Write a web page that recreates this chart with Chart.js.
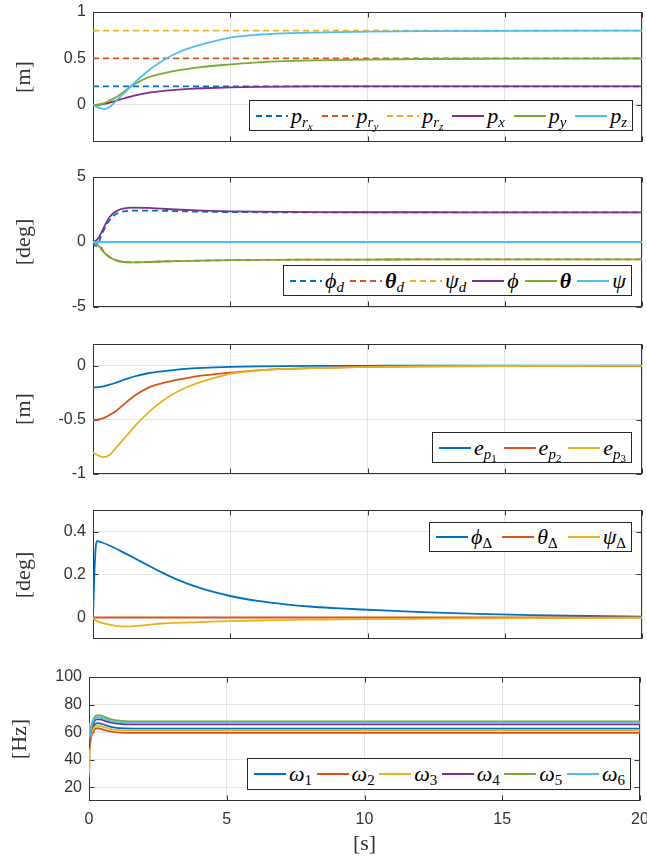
<!DOCTYPE html>
<html><head><meta charset="utf-8">
<script src="https://cdn.jsdelivr.net/npm/chart.js@4.4.0/dist/chart.umd.min.js"></script>
<style>
html,body{margin:0;padding:0;background:#fff;}
#wrap{position:relative;width:647px;height:858px;overflow:hidden;background:#fff;}
canvas{position:absolute;left:0;}
.ylab{position:absolute;font-family:"Liberation Serif",serif;font-size:22px;color:#333;transform:translate(-50%,-50%) rotate(-90deg);white-space:nowrap;line-height:1;}
.xlab{position:absolute;font-family:"Liberation Serif",serif;font-size:22px;color:#333;transform:translate(-50%,-50%);white-space:nowrap;line-height:1;}
.leg{position:absolute;box-sizing:border-box;border:1px solid #262626;background:#fff;display:flex;align-items:center;justify-content:space-between;padding:0 5px 0 6px;font-family:"Liberation Serif",serif;font-size:22px;color:#000;line-height:1;}
.item{display:flex;align-items:center;white-space:nowrap;}
.item svg{margin-right:3px;flex:none;}
.s1{font-size:15px;position:relative;top:4px;}
.s2{font-size:11px;position:relative;top:3px;}
i{font-style:italic;}
</style></head>
<body><div id="wrap">
<canvas id="c1" width="647" height="152" style="top:0px"></canvas>
<canvas id="c2" width="647" height="152" style="top:165px"></canvas>
<canvas id="c3" width="647" height="152" style="top:332px"></canvas>
<canvas id="c4" width="647" height="151" style="top:498px"></canvas>
<canvas id="c5" width="647" height="176" style="top:665px"></canvas>
</div>
<script>
// ---------- DATA ----------
const xTicks = [0, 5, 10, 15, 20];
const tRef = [0, 20];

// subplot 1 & 3 : positions and errors
const tPos = [0, 0.2, 0.4, 0.6, 0.8, 1, 1.25, 1.5, 2, 2.5, 3, 3.5, 4, 5, 6, 7, 8, 10, 12, 15, 20];
const pRx = [0.2, 0.2];
const pRy = [0.5, 0.5];
const pRz = [0.8, 0.8];
const pX = [0, 0.001, 0.01, 0.024, 0.04, 0.058, 0.08, 0.1, 0.13, 0.148, 0.162, 0.172, 0.179, 0.188, 0.193, 0.196, 0.198, 0.199, 0.2, 0.2, 0.2];
const pY = [0, 0.003, 0.018, 0.045, 0.075, 0.115, 0.17, 0.22, 0.295, 0.337, 0.367, 0.39, 0.41, 0.435, 0.457, 0.47, 0.478, 0.488, 0.494, 0.497, 0.499];
const pZ = [0, -0.03, -0.045, -0.025, 0.03, 0.09, 0.16, 0.235, 0.365, 0.47, 0.55, 0.61, 0.655, 0.725, 0.755, 0.77, 0.778, 0.788, 0.793, 0.797, 0.799];
const eP1 = [-0.2, -0.199, -0.19, -0.176, -0.16, -0.142, -0.12, -0.1, -0.07, -0.052, -0.038, -0.028, -0.021, -0.012, -0.007, -0.004, -0.002, -0.001, 0, 0, 0];
const eP2 = [-0.5, -0.497, -0.482, -0.455, -0.425, -0.385, -0.33, -0.28, -0.205, -0.163, -0.133, -0.11, -0.09, -0.065, -0.043, -0.03, -0.022, -0.012, -0.006, -0.003, -0.001];
const eP3 = [-0.8, -0.83, -0.845, -0.825, -0.77, -0.71, -0.64, -0.565, -0.435, -0.33, -0.25, -0.19, -0.145, -0.075, -0.045, -0.03, -0.022, -0.012, -0.007, -0.003, -0.001];

// subplot 2 : attitude
const tAtt = [0, 0.1, 0.2, 0.3, 0.4, 0.5, 0.6, 0.8, 1, 1.25, 1.5, 2, 2.5, 3, 4, 5, 6, 8, 10, 12, 15, 20];
const phiD = [0, -0.3, -0.1, 0.5, 0.95, 1.35, 1.65, 2.1, 2.3, 2.4, 2.42, 2.42, 2.4, 2.37, 2.33, 2.3, 2.29, 2.28, 2.28, 2.28, 2.28, 2.28];
const thetaD = [0, 0.05, -0.15, -0.45, -0.75, -0.98, -1.15, -1.38, -1.5, -1.55, -1.56, -1.54, -1.5, -1.47, -1.43, -1.4, -1.38, -1.36, -1.35, -1.34, -1.33, -1.33];
const psiD = [0, 0];
const phi = [0, 0.1, 0.3, 0.7, 1.15, 1.55, 1.9, 2.3, 2.52, 2.62, 2.65, 2.62, 2.56, 2.5, 2.42, 2.36, 2.33, 2.3, 2.29, 2.29, 2.28, 2.28];
const theta = [0, -0.1, -0.3, -0.55, -0.8, -1.0, -1.15, -1.38, -1.5, -1.56, -1.57, -1.54, -1.5, -1.47, -1.43, -1.4, -1.38, -1.36, -1.35, -1.34, -1.33, -1.33];
const psi = [0, 0];

// subplot 4 : attitude differences
const tDel = [0, 0.05, 0.1, 0.15, 0.3, 0.6, 1, 1.5, 2, 2.5, 3, 4, 5, 6, 7, 8, 9, 10, 12, 14, 16, 18, 20];
const phiDel = [0, 0.2, 0.33, 0.355, 0.35, 0.335, 0.31, 0.277, 0.243, 0.21, 0.18, 0.133, 0.1, 0.077, 0.061, 0.05, 0.042, 0.036, 0.025, 0.017, 0.011, 0.007, 0.004];
const thetaDel = [0, 0];
const psiDel = [0, -0.008, -0.013, -0.017, -0.024, -0.033, -0.041, -0.04, -0.034, -0.028, -0.025, -0.021, -0.017, -0.014, -0.012, -0.01, -0.009, -0.008, -0.006, -0.004, -0.003, -0.002, -0.001];

// subplot 5 : rotor speeds
const tRot = [0, 0.02, 0.05, 0.1, 0.2, 0.3, 0.4, 0.6, 0.8, 1, 1.3, 1.7, 2.5, 5, 10, 20];
const w1 = [58, 55, 58, 62, 65.5, 66.5, 66.3, 65, 63.8, 63.1, 62.7, 62.6, 62.6, 62.6, 62.6, 62.6];
const w2 = [27, 45, 53, 58, 61.8, 62.8, 62.5, 61.3, 60.3, 59.8, 59.5, 59.4, 59.4, 59.4, 59.4, 59.4];
const w3 = [30, 47, 55, 60, 63.8, 64.8, 64.6, 63.3, 62.2, 61.6, 61.3, 61.2, 61.2, 61.2, 61.2, 61.2];
const w4 = [48, 52, 58, 63.5, 68, 69.3, 69.2, 68, 66.8, 66.1, 65.7, 65.6, 65.6, 65.6, 65.6, 65.6];
const w5 = [55, 56, 61, 66, 70.8, 72.2, 72.1, 70.8, 69.3, 68.5, 68, 67.8, 67.8, 67.8, 67.8, 67.8];
const w6 = [67, 57, 60, 65, 69.5, 70.8, 70.7, 69.5, 68, 67.2, 66.7, 66.5, 66.5, 66.5, 66.5, 66.5];

// y tick labels
const yTicks1 = [0, 0.5, 1];
const yTicks2 = [-5, 0, 5];
const yTicks3 = [-1, -0.5, 0];
const yTicks4 = [0, 0.2, 0.4];
const yTicks5 = [20, 40, 60, 80, 100];

// ---------- STYLE ----------
const C = ['#0072BD', '#D95319', '#EDB120', '#7E2F8E', '#77AC30', '#4DBEEE'];
const GRID = '#e4e4e4', AXIS = '#333333', TICK = '#333333';

const boxPlugin = {
  id: 'mbox',
  beforeDatasetsDraw(chart) {
    const {ctx, chartArea: a, scales} = chart;
    ctx.save();
    ctx.strokeStyle = AXIS; ctx.lineWidth = 1;
    const L = Math.round(a.left) + 0.5, R = Math.round(a.right) - 0.5, T = Math.round(a.top) + 0.5, B = Math.round(a.bottom) - 0.5;
    ctx.strokeRect(L, T, R - L, B - T);
    ctx.beginPath();
    scales.x.ticks.forEach(t => {
      const x = Math.round(scales.x.getPixelForValue(t.value)) + 0.5;
      ctx.moveTo(x, B); ctx.lineTo(x, B - 5); ctx.moveTo(x, T); ctx.lineTo(x, T + 5);
    });
    scales.y.ticks.forEach(t => {
      const y = Math.round(scales.y.getPixelForValue(t.value)) + 0.5;
      ctx.moveTo(L, y); ctx.lineTo(L + 5, y); ctx.moveTo(R, y); ctx.lineTo(R - 5, y);
    });
    ctx.stroke();
    ctx.restore();
  }
};

function ds(t, v, color, dash) {
  return {t, v, color, dash};
}

function makeChart(id, o) {
  const n = o.series.length;
  return new Chart(document.getElementById(id), {
    type: 'line',
    data: {
      datasets: o.series.map((s, i) => ({
        data: s.t.map((x, k) => ({x, y: s.v[k]})),
        borderColor: s.color,
        borderWidth: 1.8,
        borderDash: s.dash ? [6, 4] : [],
        pointRadius: 0,
        fill: false,
        cubicInterpolationMode: 'monotone',
        order: n - i
      }))
    },
    options: {
      responsive: false, maintainAspectRatio: false, animation: false,
      layout: {padding: {top: 12, right: o.padRight, left: 0, bottom: 0}},
      plugins: {legend: {display: false}, tooltip: {enabled: false}},
      scales: {
        x: {
          type: 'linear', min: 0, max: 20,
          grid: {color: GRID, drawTicks: false, lineWidth: 1},
          border: {display: false},
          ticks: {display: o.showX, padding: 9, color: TICK, maxRotation: 0,
                  font: {family: 'Liberation Sans', size: 16}, callback: v => String(v)},
          afterBuildTicks: s => { s.ticks = xTicks.map(v => ({value: v})); },
          afterFit: s => { s.height = o.bottomH; s.paddingLeft = 0; s.paddingRight = 0; }
        },
        y: {
          type: 'linear', min: o.yMin, max: o.yMax,
          grid: {color: GRID, drawTicks: false, lineWidth: 1},
          border: {display: false},
          ticks: {padding: 7, color: TICK, font: {family: 'Liberation Sans', size: 16}, callback: v => String(v)},
          afterBuildTicks: s => { s.ticks = o.yTicks.map(v => ({value: v})); },
          afterFit: s => { s.width = o.left; s.paddingTop = 0; s.paddingBottom = 0; }
        }
      }
    },
    plugins: [boxPlugin]
  });
}

makeChart('c1', {left: 93, padRight: 5, bottomH: 10, showX: false, yMin: -0.4, yMax: 1, yTicks: yTicks1,
  series: [ds(tRef, pRx, C[0], true), ds(tRef, pRy, C[1], true), ds(tRef, pRz, C[2], true),
           ds(tPos, pX, C[3]), ds(tPos, pY, C[4]), ds(tPos, pZ, C[5])]});
makeChart('c2', {left: 93, padRight: 5, bottomH: 10, showX: false, yMin: -5, yMax: 5, yTicks: yTicks2,
  series: [ds(tAtt, phiD, C[0], true), ds(tAtt, thetaD, C[1], true), ds(tRef, psiD, C[2], true),
           ds(tAtt, phi, C[3]), ds(tAtt, theta, C[4]), ds(tRef, psi, C[5])]});
makeChart('c3', {left: 93, padRight: 5, bottomH: 10, showX: false, yMin: -1, yMax: 0.2, yTicks: yTicks3,
  series: [ds(tPos, eP1, C[0]), ds(tPos, eP2, C[1]), ds(tPos, eP3, C[2])]});
makeChart('c4', {left: 93, padRight: 5, bottomH: 10, showX: false, yMin: -0.1, yMax: 0.5, yTicks: yTicks4,
  series: [ds(tDel, phiDel, C[0]), ds(tRef, thetaDel, C[1]), ds(tDel, psiDel, C[2])]});
makeChart('c5', {left: 89, padRight: 7, bottomH: 40, showX: true, yMin: 10, yMax: 100, yTicks: yTicks5,
  series: [ds(tRot, w1, C[0]), ds(tRot, w2, C[1]), ds(tRot, w3, C[2]),
           ds(tRot, w4, C[3]), ds(tRot, w5, C[4]), ds(tRot, w6, C[5])]});

// ---------- LABELS & LEGENDS (HTML text) ----------
const wrap = document.getElementById('wrap');
function addDiv(cls, html, styles) {
  const d = document.createElement('div');
  d.className = cls; d.innerHTML = html;
  Object.assign(d.style, styles);
  wrap.appendChild(d);
  return d;
}
addDiv('ylab', '[m]', {left: '22.5px', top: '77px'});
addDiv('ylab', '[deg]', {left: '22.5px', top: '242px'});
addDiv('ylab', '[m]', {left: '22.5px', top: '409px'});
addDiv('ylab', '[deg]', {left: '22.5px', top: '574.5px'});
addDiv('ylab', '[Hz]', {left: '18.5px', top: '739px'});
addDiv('xlab', '[s]', {left: '364.5px', top: '843px'});

function sample(color, dash) {
  return `<svg width="32" height="6"><line x1="0" y1="3" x2="32" y2="3" stroke="${color}" stroke-width="2"${dash ? ' stroke-dasharray="6,4"' : ''}/></svg>`;
}
function legend(box, items) {
  const html = items.map(it => `<span class="item">${sample(it[0], it[1])}<span>${it[2]}</span></span>`).join('');
  addDiv('leg', html, {left: box[0] + 'px', top: box[1] + 'px', width: box[2] + 'px', height: box[3] + 'px'});
}
const sub = (a, b) => `<span class="s1">${a}${b ? `<span class="s2">${b}</span>` : ''}</span>`;
legend([249, 100, 384, 31], [
  [C[0], true, `<i>p</i>${sub('<i>r</i>', '<i>x</i>')}`],
  [C[1], true, `<i>p</i>${sub('<i>r</i>', '<i>y</i>')}`],
  [C[2], true, `<i>p</i>${sub('<i>r</i>', '<i>z</i>')}`],
  [C[3], false, `<i>p</i>${sub('<i>x</i>')}`],
  [C[4], false, `<i>p</i>${sub('<i>y</i>')}`],
  [C[5], false, `<i>p</i>${sub('<i>z</i>')}`]]);
legend([283, 265, 349, 31], [
  [C[0], true, `<i>ϕ</i>${sub('<i>d</i>')}`],
  [C[1], true, `<b><i>θ</i></b>${sub('<i>d</i>')}`],
  [C[2], true, `<i>ψ</i>${sub('<i>d</i>')}`],
  [C[3], false, `<i>ϕ</i>`],
  [C[4], false, `<b><i>θ</i></b>`],
  [C[5], false, `<i>ψ</i>`]]);
legend([432, 432, 200, 31], [
  [C[0], false, `<i>e</i>${sub('<i>p</i>', '1')}`],
  [C[1], false, `<i>e</i>${sub('<i>p</i>', '2')}`],
  [C[2], false, `<i>e</i>${sub('<i>p</i>', '3')}`]]);
legend([429, 522, 203, 30], [
  [C[0], false, `<i>ϕ</i>${sub('Δ')}`],
  [C[1], false, `<i>θ</i>${sub('Δ')}`],
  [C[2], false, `<i>ψ</i>${sub('Δ')}`]]);
legend([247, 758, 384, 32], [
  [C[0], false, `<i>ω</i>${sub('1')}`],
  [C[1], false, `<i>ω</i>${sub('2')}`],
  [C[2], false, `<i>ω</i>${sub('3')}`],
  [C[3], false, `<i>ω</i>${sub('4')}`],
  [C[4], false, `<i>ω</i>${sub('5')}`],
  [C[5], false, `<i>ω</i>${sub('6')}`]]);
</script>
</body></html>
